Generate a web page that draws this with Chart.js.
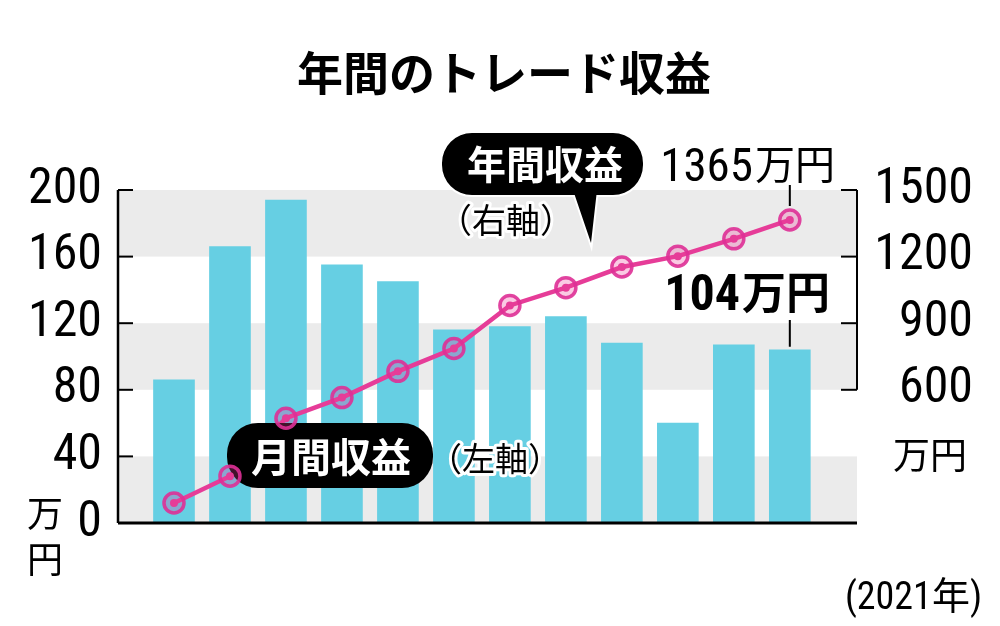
<!DOCTYPE html>
<html lang="ja">
<head>
  <meta charset="UTF-8">
  <title>年間のトレード収益</title>
  <script src="https://cdn.jsdelivr.net/npm/chart.js"></script>
  <style>
    html, body { margin: 0; padding: 0; background: #fff; }
    .wrap { width: 1000px; height: 626px; position: relative; }
  </style>
</head>
<body>
  <div class="wrap">
    <canvas id="tradeChart"></canvas>
  </div>

  <script>
    // データ（2021年）
    const categories = ['1月', '2月', '3月', '4月', '5月', '6月', '7月', '8月', '9月', '10月', '11月', '12月'];
    const monthlyProfit = [86, 166, 194, 155, 145, 116, 118, 124, 108, 60, 107, 104];   // 万円（左軸）
    const annualProfit = [90, 211, 472, 565, 683, 786, 980, 1060, 1153, 1202, 1280, 1365]; // 万円（右軸）
    const leftTicks = [0, 40, 80, 120, 160, 200];
    const rightTicks = [600, 900, 1200, 1500];

    const JP = "'Noto Sans CJK JP', sans-serif";
    const NUM = "'Roboto Condensed', 'Liberation Sans Narrow', 'DejaVu Sans Condensed', 'Noto Sans', 'Noto Sans CJK JP', sans-serif";
    const PINK = '#e63c98';

    const toPoints = arr => arr.map((v, i) => ({ x: i + 1, y: v }));

    function pill(ctx, x, y, w, h, r) {
      ctx.moveTo(x + r, y);
      ctx.lineTo(x + w - r, y);
      ctx.arcTo(x + w, y, x + w, y + r, r);
      ctx.lineTo(x + w, y + h - r);
      ctx.arcTo(x + w, y + h, x + w - r, y + h, r);
      ctx.lineTo(x + r, y + h);
      ctx.arcTo(x, y + h, x, y + h - r, r);
      ctx.lineTo(x, y + r);
      ctx.arcTo(x, y, x + r, y, r);
      ctx.closePath();
    }

    function haloText(ctx, text, x, y, font) {
      ctx.font = font;
      ctx.lineJoin = 'round';
      ctx.strokeStyle = '#fff';
      ctx.lineWidth = 6;
      ctx.strokeText(text, x, y);
      ctx.fillStyle = '#000';
      ctx.fillText(text, x, y);
    }

    const decor = {
      id: 'decor',
      beforeDatasetsDraw(chart) {
        const { ctx, chartArea: a, scales: { y } } = chart;
        ctx.save();
        ctx.fillStyle = '#ebebeb';
        for (let i = 0; i < leftTicks.length - 1; i += 2) {
          const top = y.getPixelForValue(leftTicks[i + 1]);
          const bot = y.getPixelForValue(leftTicks[i]);
          ctx.fillRect(a.left, top, a.right - a.left, bot - top);
        }
        ctx.restore();
      },
      afterDatasetDraw(chart, args) {
        // 月間収益のラベルは折れ線の上、マーカーの下
        if (args.index !== 1) return;
        const ctx = chart.ctx;
        ctx.save();
        ctx.beginPath();
        pill(ctx, 227, 423, 206, 65, 31);
        ctx.fillStyle = '#000';
        ctx.fill();
        ctx.fillStyle = '#fff';
        ctx.font = 'bold 40px ' + JP;
        ctx.textAlign = 'center';
        ctx.textBaseline = 'middle';
        ctx.fillText('月間収益', 331, 457);
        ctx.restore();
      },
      afterDatasetsDraw(chart) {
        const { ctx, chartArea: a, scales: { y, y1 } } = chart;
        ctx.save();
        ctx.strokeStyle = '#000';
        // 左軸
        ctx.lineWidth = 2.5;
        ctx.beginPath();
        ctx.moveTo(a.left, y.getPixelForValue(200));
        ctx.lineTo(a.left, a.bottom);
        ctx.stroke();
        ctx.lineWidth = 2;
        leftTicks.slice(1).forEach(v => {
          const py = y.getPixelForValue(v);
          ctx.beginPath();
          ctx.moveTo(a.left, py);
          ctx.lineTo(a.left + 15, py);
          ctx.stroke();
        });
        // 右軸（600〜1500のみ）
        ctx.beginPath();
        ctx.moveTo(a.right, y1.getPixelForValue(rightTicks[0]));
        ctx.lineTo(a.right, y1.getPixelForValue(rightTicks[rightTicks.length - 1]));
        ctx.stroke();
        rightTicks.forEach(v => {
          const py = y1.getPixelForValue(v);
          ctx.beginPath();
          ctx.moveTo(a.right - 16, py);
          ctx.lineTo(a.right, py);
          ctx.stroke();
        });
        // 横軸
        ctx.lineWidth = 3;
        ctx.beginPath();
        ctx.moveTo(a.left, a.bottom);
        ctx.lineTo(a.right, a.bottom);
        ctx.stroke();
        ctx.restore();
      },
      afterDraw(chart) {
        const ctx = chart.ctx;
        const last = categories.length - 1;
        const pLine = chart.getDatasetMeta(1).data[last];
        const pBar = chart.getDatasetMeta(0).data[last];
        ctx.save();

        // タイトル
        ctx.fillStyle = '#000';
        ctx.textAlign = 'center';
        ctx.textBaseline = 'middle';
        ctx.font = 'bold 46px ' + JP;
        ctx.fillText('年間のトレード収益', 504, 73);

        // 年間収益（吹き出し）
        ctx.beginPath();
        pill(ctx, 442, 133, 201, 62, 30);
        ctx.moveTo(597, 190);
        ctx.lineTo(591, 243);
        ctx.lineTo(573, 190);
        ctx.closePath();
        ctx.lineWidth = 4;
        ctx.lineJoin = 'miter';
        ctx.strokeStyle = '#fff';
        ctx.stroke();
        ctx.fillStyle = '#000';
        ctx.fill();
        ctx.fillStyle = '#fff';
        ctx.font = 'bold 39px ' + JP;
        ctx.fillText('年間収益', 545, 164);

        haloText(ctx, '（右軸）', 506, 220, '34px ' + JP);
        haloText(ctx, '（左軸）', 495, 458, '33px ' + JP);

        // 最終値
        ctx.fillStyle = '#000';
        ctx.textAlign = 'right';
        ctx.textBaseline = 'alphabetic';
        ctx.font = 'condensed 47px ' + NUM;
        ctx.fillText(String(annualProfit[last]), 753, 181);
        ctx.textAlign = 'left';
        ctx.textBaseline = 'middle';
        ctx.font = '40px ' + JP;
        ctx.fillText('万円', 755, 164);

        ctx.textAlign = 'right';
        ctx.textBaseline = 'alphabetic';
        ctx.font = 'condensed bold 50px ' + NUM;
        ctx.fillText(String(monthlyProfit[last]), 740, 310);
        ctx.textAlign = 'left';
        ctx.textBaseline = 'middle';
        ctx.font = 'bold 44px ' + JP;
        ctx.fillText('万円', 742, 292);

        ctx.strokeStyle = '#000';
        ctx.lineWidth = 2;
        ctx.beginPath();
        ctx.moveTo(pLine.x, 185);
        ctx.lineTo(pLine.x, pLine.y - 14);
        ctx.moveTo(pBar.x, 320);
        ctx.lineTo(pBar.x, pBar.y - 3);
        ctx.stroke();

        // 単位
        ctx.textAlign = 'center';
        ctx.font = '36px ' + JP;
        ctx.fillText('万', 45, 513);
        ctx.fillText('円', 45, 559);
        ctx.font = '37px ' + JP;
        ctx.fillText('万円', 930, 455);

        ctx.textAlign = 'right';
        ctx.textBaseline = 'alphabetic';
        ctx.font = 'condensed 38px ' + NUM;
        ctx.fillText('(2021年)', 982, 609);
        ctx.restore();
      }
    };

    new Chart(document.getElementById('tradeChart'), {
      data: {
        datasets: [
          {
            type: 'bar',
            label: '月間収益',
            data: toPoints(monthlyProfit),
            backgroundColor: '#66cfe3',
            barThickness: 41,
            yAxisID: 'y',
            order: 4
          },
          {
            type: 'line',
            label: '年間収益',
            data: toPoints(annualProfit),
            borderColor: PINK,
            borderWidth: 4.5,
            pointRadius: 0,
            tension: 0,
            yAxisID: 'y1',
            order: 3
          },
          {
            type: 'line',
            label: '年間収益マーカー',
            data: toPoints(annualProfit),
            showLine: false,
            pointRadius: 10,
            pointBorderWidth: 3.5,
            pointBorderColor: 'rgba(222, 48, 150, 0.9)',
            pointBackgroundColor: 'rgba(236, 64, 154, 0.28)',
            yAxisID: 'y1',
            order: 2
          },
          {
            type: 'line',
            label: '年間収益点',
            data: toPoints(annualProfit),
            showLine: false,
            pointRadius: 4,
            pointBorderWidth: 0,
            pointBackgroundColor: PINK,
            yAxisID: 'y1',
            order: 1
          }
        ]
      },
      options: {
        responsive: true,
        maintainAspectRatio: false,
        animation: false,
        layout: { padding: { top: 190, bottom: 103, left: 0, right: 27 } },
        plugins: {
          legend: { display: false },
          title: { display: false },
          tooltip: {
            callbacks: { title: items => categories[items[0].parsed.x - 1] }
          }
        },
        scales: {
          x: {
            type: 'linear',
            display: false,
            offset: false,
            min: 0,
            max: 13.2
          },
          y: {
            position: 'left',
            min: 0,
            max: 200,
            afterBuildTicks: s => { s.ticks = leftTicks.map(v => ({ value: v })); },
            afterFit: s => { s.width = 118; },
            grid: { display: false, drawTicks: false },
            border: { display: false },
            ticks: {
              color: '#000',
              padding: 16,
              callback: v => String(v),
              font: { family: NUM, size: 50, weight: 'condensed' }
            }
          },
          y1: {
            position: 'right',
            min: 0,
            max: 1500,
            afterBuildTicks: s => { s.ticks = rightTicks.map(v => ({ value: v })); },
            afterFit: s => { s.width = 116; },
            grid: { display: false, drawTicks: false },
            border: { display: false },
            ticks: {
              color: '#000',
              crossAlign: 'far',
              callback: v => String(v),
              font: { family: NUM, size: 50, weight: 'condensed' }
            }
          }
        }
      },
      plugins: [decor]
    });
  </script>
</body>
</html>
